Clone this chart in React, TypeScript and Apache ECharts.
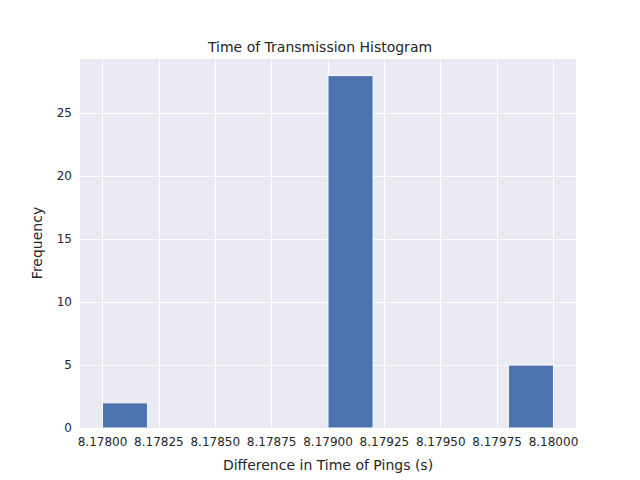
import React, { useEffect, useRef } from "react";
import * as echarts from "echarts";

// histogram bins (left edge, right edge, count)
const binStarts = [8.178, 8.1782, 8.1784, 8.1786, 8.1788, 8.179, 8.1792, 8.1794, 8.1796, 8.1798];
const binWidth = 0.0002;
const counts = [2, 0, 0, 0, 0, 28, 0, 0, 0, 5];
const xTicks = [8.178, 8.17825, 8.1785, 8.17875, 8.179, 8.17925, 8.1795, 8.17975, 8.18];
const font = "DejaVu Sans";

const App = () => {
	const ref = useRef<HTMLDivElement>(null);

	useEffect(() => {
		const chart = echarts.init(ref.current, null, { renderer: "svg" });
		chart.setOption({
			animation: false,
			backgroundColor: "#ffffff",
			title: {
				text: "Time of Transmission Histogram",
				left: "center",
				top: 35,
				textStyle: { fontFamily: font, fontSize: 14, fontWeight: "normal", color: "#262626" },
			},
			grid: { left: 80, right: 64, top: 58, bottom: 52, show: true, backgroundColor: "#EAEAF2", borderWidth: 0 },
			xAxis: {
				type: "value",
				min: 8.1779,
				max: 8.1801,
				name: "Difference in Time of Pings (s)",
				nameLocation: "middle",
				nameGap: 30,
				nameTextStyle: { fontFamily: font, fontSize: 14, color: "#262626" },
				axisLine: { show: false },
				axisTick: { show: false, customValues: xTicks },
				axisLabel: {
					customValues: xTicks,
					fontFamily: font,
					fontSize: 12,
					color: "#262626",
					margin: 8,
					formatter: (v: number) => v.toFixed(5),
				},
				splitLine: { show: true, lineStyle: { color: "#ffffff", width: 1 } },
			},
			yAxis: {
				type: "value",
				min: 0,
				max: 29.4,
				interval: 5,
				name: "Frequency",
				nameLocation: "middle",
				nameGap: 36,
				nameTextStyle: { fontFamily: font, fontSize: 14, color: "#262626" },
				axisLine: { show: false },
				axisTick: { show: false },
				axisLabel: {
					fontFamily: font,
					fontSize: 12,
					color: "#262626",
					formatter: (v: number) => (v % 5 === 0 ? String(v) : ""),
				},
				splitLine: { show: true, lineStyle: { color: "#ffffff", width: 1 } },
			},
			series: [
				{
					type: "custom",
					renderItem: (params: any, api: any) => {
						const x0 = api.value(0);
						const x1 = api.value(1);
						const c = api.value(2);
						if (!c) return null;
						const p0 = api.coord([x0, c]);
						const p1 = api.coord([x1, 0]);
						return {
							type: "rect",
							shape: { x: p0[0], y: p0[1], width: p1[0] - p0[0], height: p1[1] - p0[1] },
							style: { fill: "#4C72B0", stroke: "#ffffff", lineWidth: 1 },
						};
					},
					encode: { x: [0, 1], y: 2 },
					data: binStarts.map((s, i) => [s, s + binWidth, counts[i]]),
				},
			],
		});
		return () => chart.dispose();
	}, []);

	return (
		<div
			ref={ref}
			style={{ width: "640px", height: "480px", position: "absolute", left: 0, top: 0 }}
		/>
	);
};

export default App;
